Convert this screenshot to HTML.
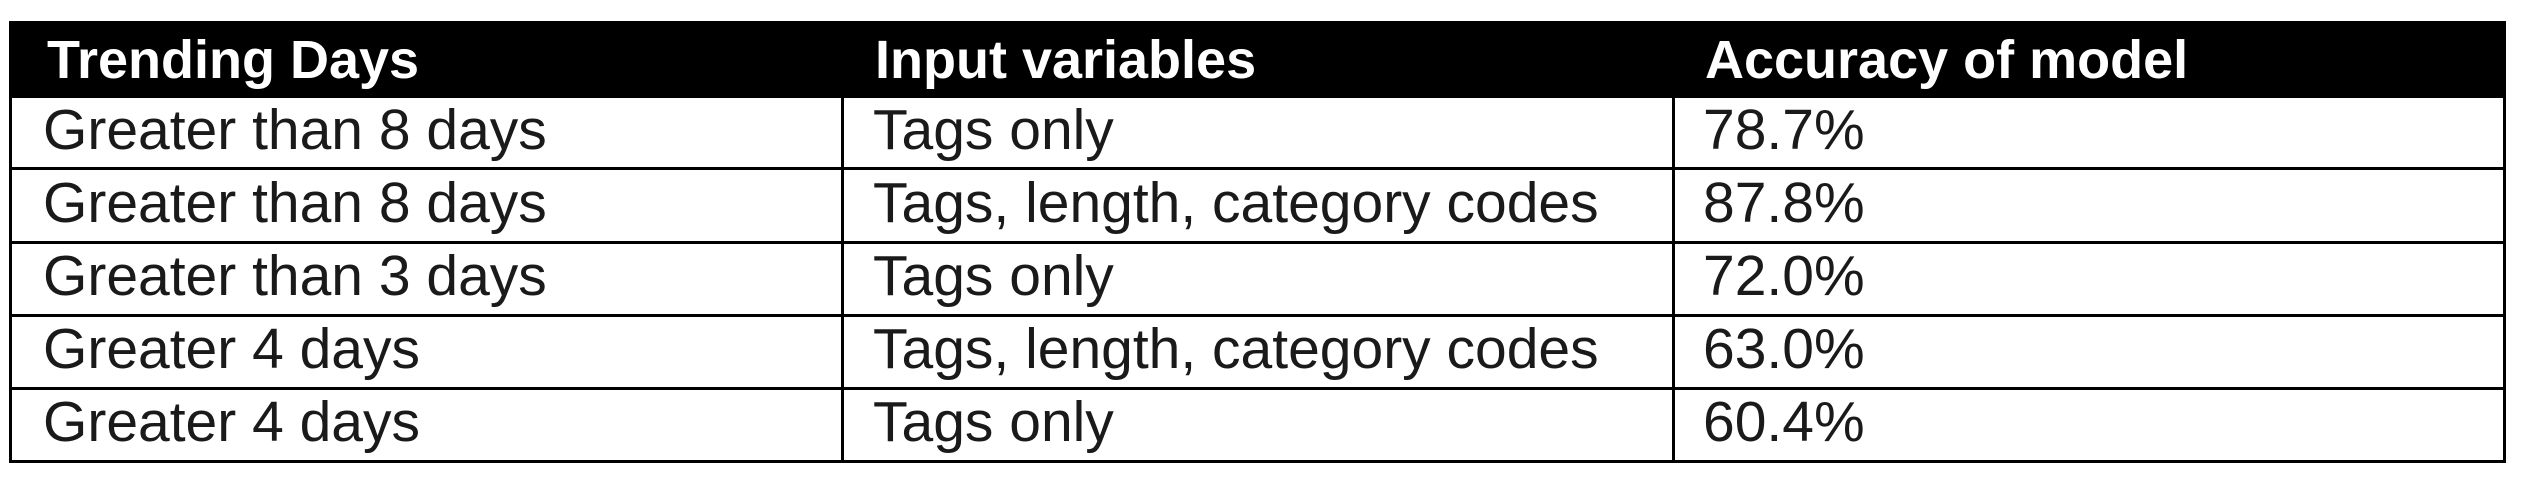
<!DOCTYPE html>
<html><head><style>
html,body{margin:0;padding:0;background:#fff;width:2524px;height:478px;overflow:hidden;}
.a{position:absolute;}
.t{position:absolute;font-family:"Liberation Sans",sans-serif;font-size:57px;line-height:1;color:#1a1a1a;white-space:nowrap;}
.h{color:#fff;font-weight:bold;font-size:54px;}
.hl{position:absolute;left:9px;width:2497px;height:3px;background:#000;}
.vl{position:absolute;width:3px;background:#000;top:97px;height:365px;}
</style></head><body>
<div class="a" style="left:9px;top:21px;width:2497px;height:77px;background:#000"></div>
<div class="vl" style="left:9px"></div>
<div class="vl" style="left:841px"></div>
<div class="vl" style="left:1672px"></div>
<div class="vl" style="left:2503px"></div>
<div class="hl" style="top:167px"></div>
<div class="hl" style="top:241px"></div>
<div class="hl" style="top:314px"></div>
<div class="hl" style="top:387px"></div>
<div class="hl" style="top:460px"></div>

<div class="t h" style="left:47px;top:33px">Trending Days</div>
<div class="t h" style="left:875px;top:33px">Input variables</div>
<div class="t h" style="left:1705px;top:33px">Accuracy of model</div>

<div class="t" style="left:43px;top:102px">Greater than 8 days</div>
<div class="t" style="left:873px;top:102px">Tags only</div>
<div class="t" style="left:1703px;top:102px">78.7%</div>

<div class="t" style="left:43px;top:175px">Greater than 8 days</div>
<div class="t" style="left:873px;top:175px">Tags, length, category codes</div>
<div class="t" style="left:1703px;top:175px">87.8%</div>

<div class="t" style="left:43px;top:248px">Greater than 3 days</div>
<div class="t" style="left:873px;top:248px">Tags only</div>
<div class="t" style="left:1703px;top:248px">72.0%</div>

<div class="t" style="left:43px;top:321px">Greater 4 days</div>
<div class="t" style="left:873px;top:321px">Tags, length, category codes</div>
<div class="t" style="left:1703px;top:321px">63.0%</div>

<div class="t" style="left:43px;top:394px">Greater 4 days</div>
<div class="t" style="left:873px;top:394px">Tags only</div>
<div class="t" style="left:1703px;top:394px">60.4%</div>
</body></html>
